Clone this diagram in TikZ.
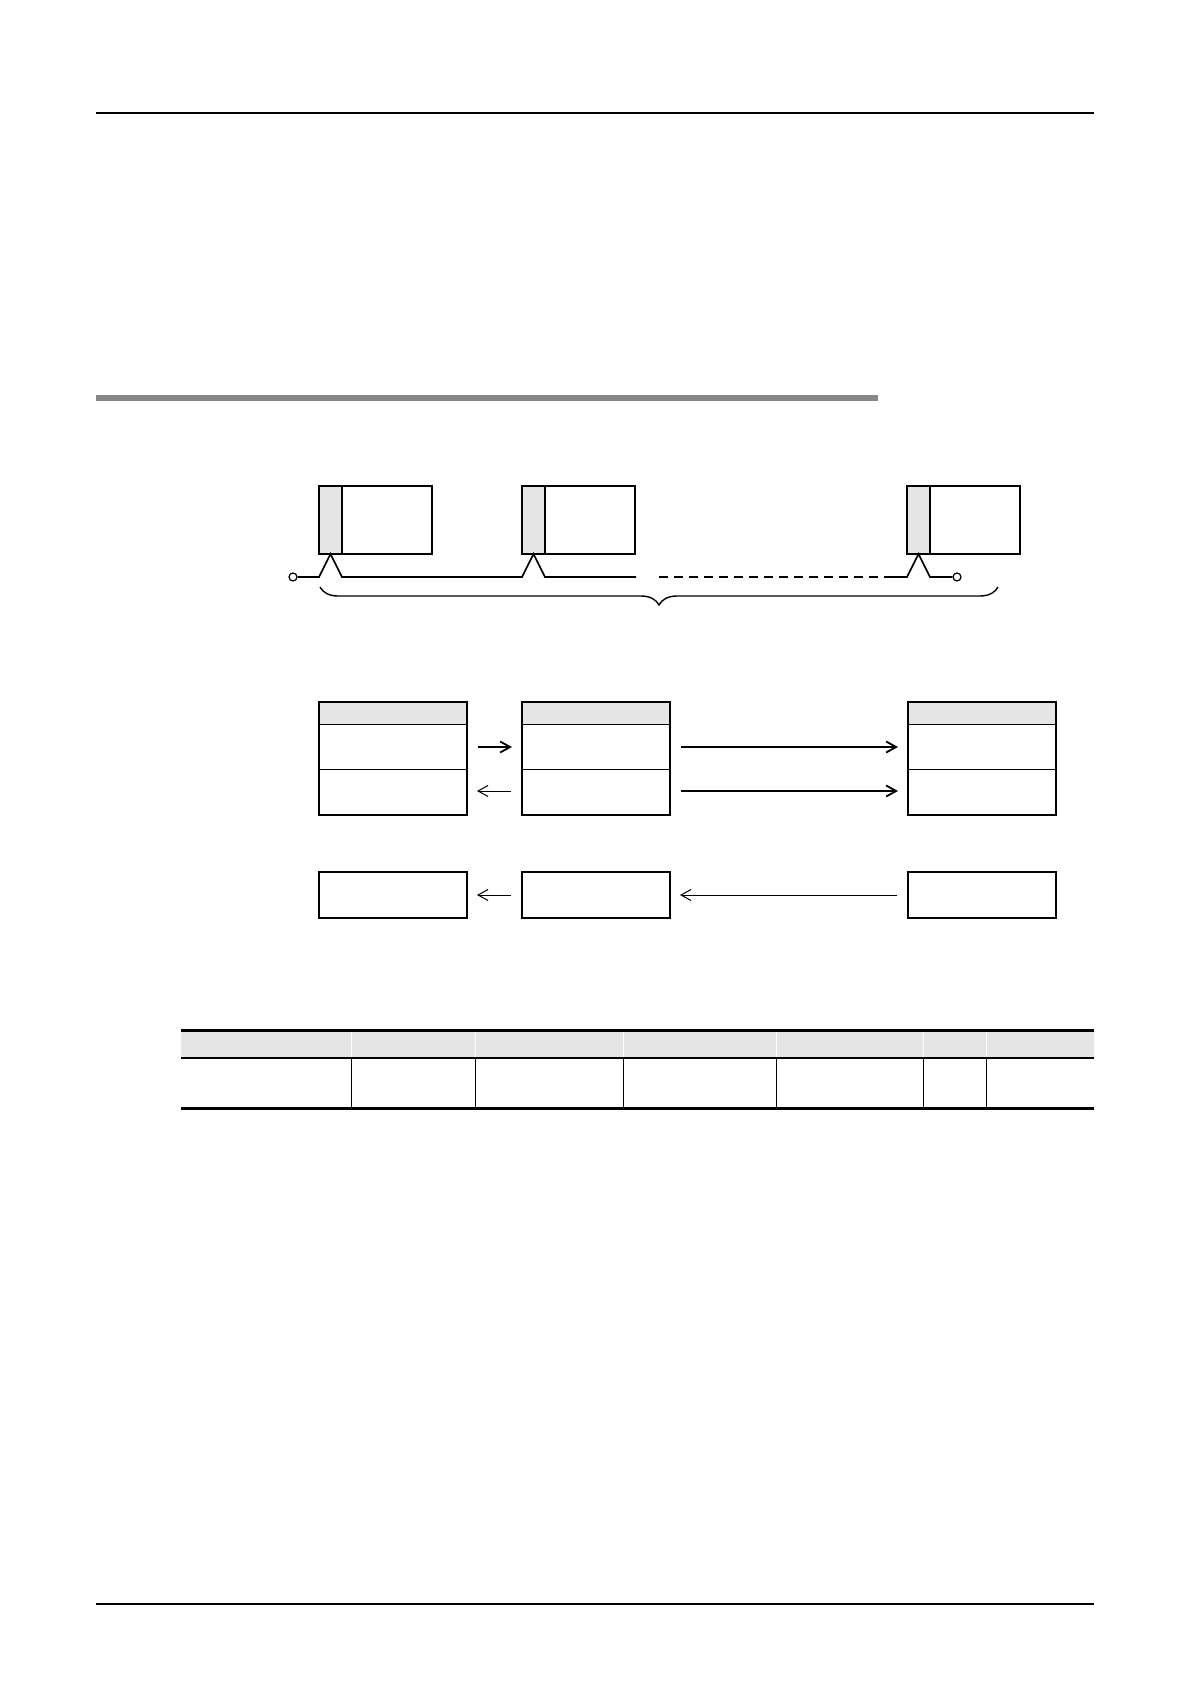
\documentclass[tikz,border=0pt]{standalone}
\usetikzlibrary{arrows.meta,calc,decorations.pathreplacing}

\definecolor{ruleGray}{gray}{0.53}
\definecolor{cellGray}{gray}{0.9}

\tikzset{
  unitbox/.style={draw, line width=0.9pt, minimum width=56.5pt, minimum height=34pt,
    inner sep=0pt, outer sep=0pt, anchor=north west,
    path picture={\fill[cellGray] (path picture bounding box.north west) rectangle ([xshift=11.5pt]path picture bounding box.south west);
      \draw[line width=0.6pt] ([xshift=11.5pt]path picture bounding box.north west) -- ([xshift=11.5pt]path picture bounding box.south west);}},
  regbox/.style={draw, line width=0.75pt, minimum width=74pt, minimum height=56.5pt,
    inner sep=0pt, outer sep=0pt, anchor=north west,
    path picture={\fill[cellGray] (path picture bounding box.north west) rectangle ([yshift=-11pt]path picture bounding box.north east);
      \draw[line width=0.5pt] ([yshift=-11pt]path picture bounding box.north west) -- ([yshift=-11pt]path picture bounding box.north east);
      \draw[line width=0.5pt] ([yshift=-33.5pt]path picture bounding box.north west) -- ([yshift=-33.5pt]path picture bounding box.north east);}},
  outbox/.style={draw, line width=1pt, minimum width=74pt, minimum height=23pt,
    inner sep=0pt, outer sep=0pt, anchor=north west},
  termdot/.style={circle, draw, line width=0.6pt, minimum size=4pt, inner sep=0pt, fill=white},
  bus/.style={line width=0.8pt},
  fwd/.style={line width=0.9pt, -{Straight Barb[length=5pt,width=5.5pt]}, shorten <=5.5pt, shorten >=5pt},
  back/.style={line width=0.5pt, -{Straight Barb[length=5pt,width=5.5pt]}, shorten <=5.5pt, shorten >=5pt},
}

\begin{document}
\begin{tikzpicture}[x=0.5pt, y=-0.5pt]
  \fill[white] (0,0) rectangle (1190,1684);
  \useasboundingbox (0,0) rectangle (1190,1684);

  % page rules
  \draw[line width=0.7pt] (96,113) -- (1094,113);
  \fill[ruleGray] (96,395) rectangle (878,401);
  \draw[line width=0.7pt] (96,1604) -- (1094,1604);

  % units on the bus
  \node[unitbox] (u1) at (319,486) {};
  \node[unitbox] (u2) at (522,486) {};
  \node[unitbox] (u3) at (907,486) {};
  \foreach \u in {u1,u2,u3} {
    \coordinate (\u-in) at ($(\u.south west)+(0,23)$);
    \coordinate (\u-top) at ($(\u.south west)+(11.5,0)$);
    \coordinate (\u-out) at ($(\u.south west)+(23,23)$);
  }
  \node[termdot] (termL) at (293,577) {};
  \node[termdot] (termR) at (957,577) {};
  \coordinate (busEnd) at (636,577);
  \coordinate (dashL) at (659,577);
  \coordinate (dashR) at (885,577);

  \draw[bus] (termL) -- (u1-in) -- (u1-top) -- (u1-out) -- (u2-in) -- (u2-top) -- (u2-out) -- (busEnd);
  \draw[bus, dash pattern=on 4.5pt off 3pt] (dashL) -- (dashR);
  \draw[bus] (dashR) -- (u3-in) -- (u3-top) -- (u3-out) -- (termR);

  \coordinate (braceL) at (320,587);
  \coordinate (braceR) at (998,587);
  \draw[line width=0.7pt, decorate, decoration={brace, mirror, amplitude=9pt}] (braceL) -- (braceR);

  % registers
  \node[regbox] (regA) at (319,702) {};
  \node[regbox] (regB) at (522,702) {};
  \node[regbox] (regC) at (908,702) {};
  \node[outbox] (outA) at (319,872) {};
  \node[outbox] (outB) at (522,872) {};
  \node[outbox] (outC) at (908,872) {};

  \coordinate (row1) at (0,747);
  \coordinate (row2) at (0,791);
  \draw[fwd] (regA.east |- row1) -- (regB.west |- row1);
  \draw[back] (regB.west |- row2) -- (regA.east |- row2);
  \draw[fwd] (regB.east |- row1) -- (regC.west |- row1);
  \draw[fwd] (regB.east |- row2) -- (regC.west |- row2);
  \draw[back] (outB.west) -- (outA.east);
  \draw[back] (outC.west) -- (outB.east);

  % table
  \fill[cellGray] (181,1030) rectangle (1094,1058);
  \foreach \x in {351.7,475.3,623.7,776.3,923.3,986.7} {
    \draw[white, line width=0.5pt] (\x,1030) -- (\x,1058);
    \draw[line width=0.6pt] (\x,1058) -- (\x,1108);
  }
  \draw[line width=0.6pt] (181,1058) -- (1094,1058);
  \draw[line width=1.5pt] (181,1030) -- (1094,1030);
  \draw[line width=1.5pt] (181,1108) -- (1094,1108);
\end{tikzpicture}
\end{document}
